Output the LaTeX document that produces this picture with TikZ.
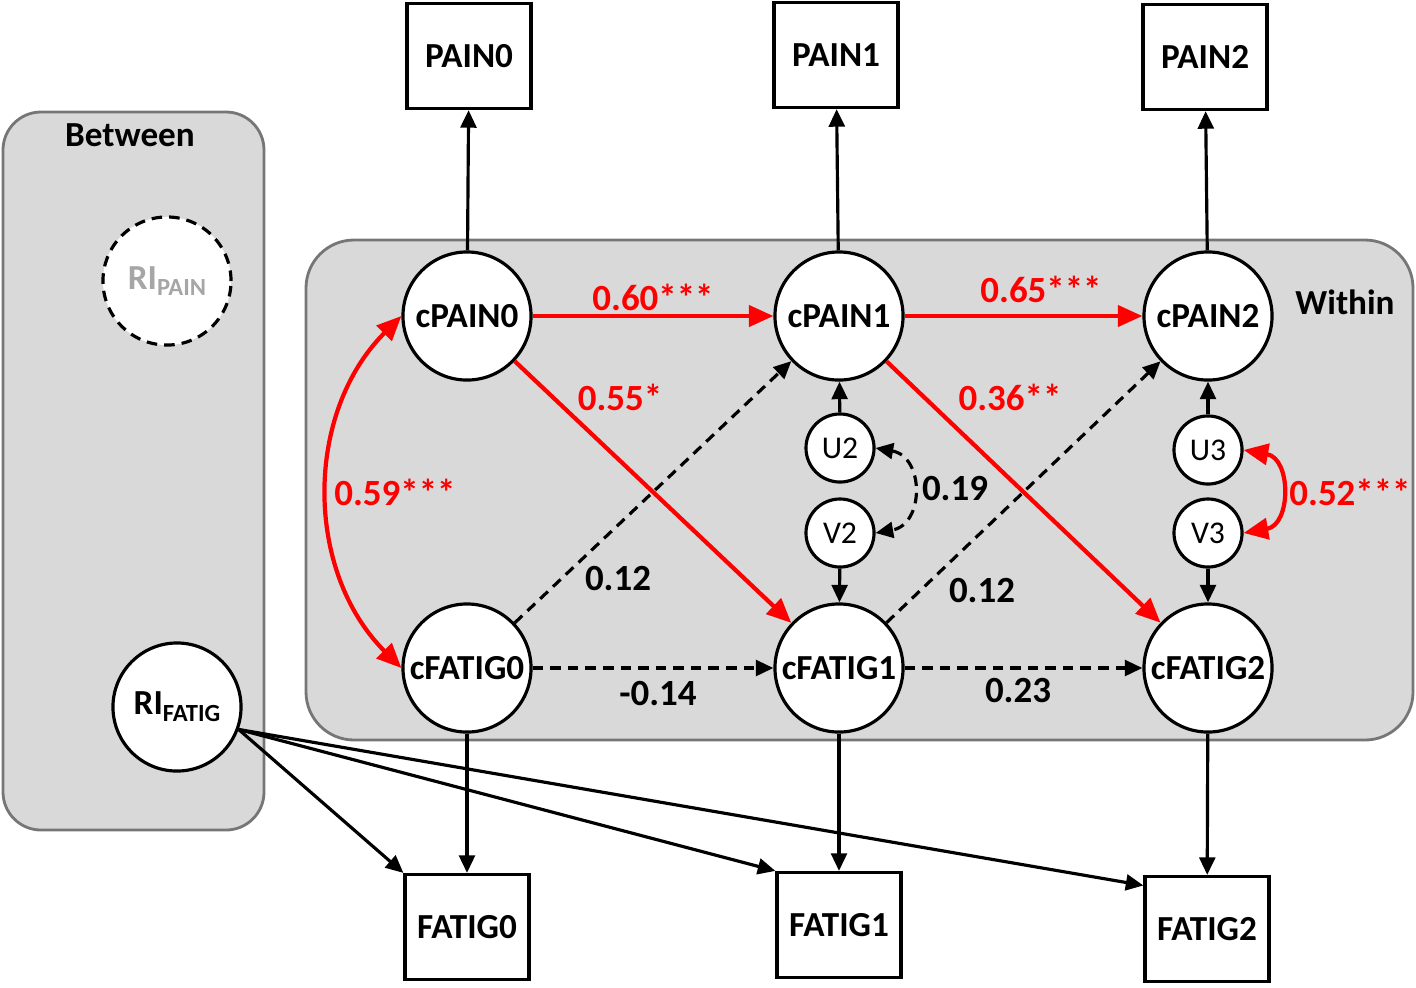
\documentclass[tikz,border=0pt]{standalone}
\usepackage{fontspec}
\setmainfont{Carlito}
\usetikzlibrary{arrows.meta}
\definecolor{panelgray}{RGB}{217,217,217}
\definecolor{paneledge}{RGB}{118,118,118}
\definecolor{ghost}{RGB}{166,166,166}
\tikzset{
  panel/.style={fill=panelgray, draw=paneledge, line width=0.8pt},
  latent/.style={circle, draw, fill=white, line width=0.9pt, minimum size=1.28cm, inner sep=0pt, font=\bfseries},
  resid/.style={circle, draw, fill=white, line width=0.9pt, minimum size=0.68cm, inner sep=0pt, font=\fontsize{9}{10}\selectfont},
  obs/.style={rectangle, draw, fill=white, line width=0.9pt, minimum width=1.24cm, minimum height=1.05cm, font=\bfseries},
  blk/.style={-{Triangle[length=5pt,width=4.5pt]}, line width=0.9pt},
  ns/.style={blk, dash pattern=on 3pt off 2pt},
  sig/.style={-{Triangle[length=7pt,width=6pt]}, line width=1.2pt, red},
  sigboth/.style={{Triangle[length=7pt,width=6pt]}-{Triangle[length=7pt,width=6pt]}, line width=1.2pt, red},
  nsboth/.style={{Triangle[length=5pt,width=4.5pt]}-{Triangle[length=5pt,width=4.5pt]}, line width=0.9pt, dash pattern=on 3pt off 2pt},
  siglbl/.style={font=\bfseries\fontsize{10.5}{12}\selectfont, text=red},
  nslbl/.style={font=\bfseries\fontsize{10.5}{12}\selectfont}
}
\begin{document}
\begin{tikzpicture}[x=0.01cm, y=-0.01cm]
  \useasboundingbox (0,0) rectangle (1416,987);
  % panels
  \draw[panel, rounded corners=0.38cm] (3,112) rectangle (264,830);
  \draw[panel, rounded corners=0.48cm] (306,240) rectangle (1413,740);
  \node[font=\bfseries] (between) at (130,135) {Between};
  \node[font=\bfseries] (within) at (1345,302) {Within};

  % random intercepts
  \node[latent, draw=black, dashed, dash pattern=on 3pt off 2pt, text=ghost] (RIP) at (167,281)
    {RI\raisebox{-0.4ex}{\fontsize{7}{8}\selectfont PAIN}};
  \node[latent] (RIF) at (177,707)
    {RI\raisebox{-0.4ex}{\fontsize{7}{8}\selectfont FATIG}};

  % observed
  \node[obs] (PAIN0) at (469,56) {PAIN0};
  \node[obs] (PAIN1) at (836,55) {PAIN1};
  \node[obs] (PAIN2) at (1205,57) {PAIN2};
  \node[obs] (FATIG0) at (467,927) {FATIG0};
  \node[obs] (FATIG1) at (839,925) {FATIG1};
  \node[obs] (FATIG2) at (1207,929) {FATIG2};

  % within-person
  \node[latent] (cPAIN0) at (467,316) {cPAIN0};
  \node[latent] (cPAIN1) at (839,316) {cPAIN1};
  \node[latent] (cPAIN2) at (1208,316) {cPAIN2};
  \node[latent] (cFATIG0) at (467,668) {cFATIG0};
  \node[latent] (cFATIG1) at (839,668) {cFATIG1};
  \node[latent] (cFATIG2) at (1208,668) {cFATIG2};

  % residuals
  \node[resid] (U2) at (840,448) {U2};
  \node[resid] (V2) at (840,533) {V2};
  \node[resid] (U3) at (1208,450) {U3};
  \node[resid] (V3) at (1208,533) {V3};

  % measurement
  \draw[blk] (cPAIN0) -- (PAIN0);
  \draw[blk] (cPAIN1) -- (PAIN1);
  \draw[blk] (cPAIN2) -- (PAIN2);
  \draw[blk] (cFATIG0) -- (FATIG0);
  \draw[blk] (cFATIG1) -- (FATIG1);
  \draw[blk] (cFATIG2) -- (FATIG2);
  \draw[blk] (RIF.-20) -- (FATIG0.north west);
  \draw[blk] (RIF.-20) -- (FATIG1.north west);
  \draw[blk] (RIF.-20) -- ([yshift=-3pt]FATIG2.north west);

  % residual paths
  \draw[blk] (U2) -- (cPAIN1);
  \draw[blk] (V2) -- (cFATIG1);
  \draw[blk] (U3) -- (cPAIN2);
  \draw[blk] (V3) -- (cFATIG2);

  % structural paths
  \draw[sig] (cPAIN0) -- (cPAIN1);
  \draw[sig] (cPAIN1) -- (cPAIN2);
  \draw[sig] (cPAIN0) -- (cFATIG1);
  \draw[sig] (cPAIN1) -- (cFATIG2);
  \draw[ns] (cFATIG0) -- (cPAIN1);
  \draw[ns] (cFATIG1) -- (cPAIN2);
  \draw[ns] (cFATIG0) -- (cFATIG1);
  \draw[ns] (cFATIG1) -- (cFATIG2);
  \draw[sigboth] (cPAIN0.west) to[bend right=45] (cFATIG0.west);
  \draw[nsboth] (U2.east) to[out=-10, in=10, looseness=1.5] (V2.east);
  \draw[sigboth] (U3.east) to[out=-10, in=10, looseness=1.5] (V3.east);

  % estimates
  \node[siglbl] (l60) at (653,297) {0.60***};
  \node[siglbl] (l65) at (1041,289) {0.65***};
  \node[siglbl] (l55) at (620,397) {0.55*};
  \node[siglbl] (l36) at (1010,397) {0.36**};
  \node[siglbl] (l59) at (395,492) {0.59***};
  \node[siglbl] (l52) at (1350,492) {0.52***};
  \node[nslbl] (l19) at (955,489) {0.19};
  \node[nslbl] (l12a) at (618,578) {0.12};
  \node[nslbl] (l12b) at (982,590) {0.12};
  \node[nslbl] (l14) at (658,693) {-0.14};
  \node[nslbl] (l23) at (1018,690) {0.23};
\end{tikzpicture}
\end{document}
